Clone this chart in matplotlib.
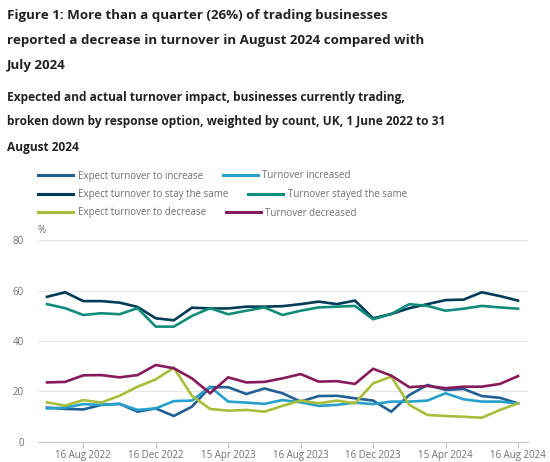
import matplotlib
matplotlib.use("Agg")
import matplotlib.pyplot as plt

plt.rcParams['font.family'] = ['Open Sans', 'DejaVu Sans']

months = ["Jun 2022", "Jul 2022", "16 Aug 2022", "Sep 2022", "Oct 2022", "Nov 2022",
          "16 Dec 2022", "Jan 2023", "Feb 2023", "Mar 2023", "15 Apr 2023", "May 2023",
          "Jun 2023", "Jul 2023", "16 Aug 2023", "Sep 2023", "Oct 2023", "Nov 2023",
          "16 Dec 2023", "Jan 2024", "Feb 2024", "Mar 2024", "15 Apr 2024", "May 2024",
          "Jun 2024", "Jul 2024", "16 Aug 2024"]
tick_labels = ["16 Aug 2022", "16 Dec 2022", "15 Apr 2023", "16 Aug 2023",
               "16 Dec 2023", "15 Apr 2024", "16 Aug 2024"]

expect_increase = [13.6, 13.1, 12.9, 14.7, 15.1, 12.0, 13.3, 10.3, 14.0, 21.7, 21.7, 19.0, 21.2, 19.3,
                   16.0, 18.2, 18.3, 17.3, 16.4, 12.0, 18.6, 22.6, 20.6, 21.0, 18.2, 17.5, 15.3]
turnover_increased = [13.3, 13.6, 15.0, 14.7, 15.1, 12.7, 13.3, 16.2, 16.4, 21.9, 16.0, 15.6, 15.1, 16.6,
                      15.7, 14.3, 14.7, 15.6, 15.0, 16.0, 16.0, 16.4, 19.3, 16.9, 16.0, 16.0, 15.3]
expect_same = [57.5, 59.3, 55.8, 55.8, 55.2, 53.5, 49.0, 48.2, 53.2, 52.9, 52.9, 53.6, 53.6, 53.8,
               54.6, 55.6, 54.6, 56.0, 49.0, 50.7, 53.0, 54.6, 56.2, 56.4, 59.3, 57.8, 56.0]
stayed_same = [54.6, 53.0, 50.3, 51.0, 50.6, 53.0, 45.7, 45.7, 49.9, 53.0, 50.6, 52.0, 53.3, 50.3,
               52.0, 53.3, 53.6, 53.9, 48.6, 50.7, 54.6, 53.9, 52.0, 52.8, 53.9, 53.3, 52.8]
expect_decrease = [15.7, 14.4, 16.6, 15.6, 18.3, 21.9, 24.8, 29.4, 18.3, 13.1, 12.4, 12.7, 12.0, 14.3,
                   16.4, 15.3, 16.4, 15.3, 23.2, 25.9, 14.7, 10.7, 10.3, 10.0, 9.6, 12.7, 15.3]
turnover_decreased = [23.6, 23.8, 26.4, 26.5, 25.6, 26.5, 30.5, 29.2, 25.2, 19.3, 25.6, 23.6, 23.8, 25.2,
                      26.9, 23.9, 24.1, 23.0, 29.0, 26.3, 21.7, 22.2, 21.3, 21.9, 21.9, 23.0, 26.1]

series = [
    ("Expect turnover to increase", expect_increase, "#206095"),
    ("Turnover increased", turnover_increased, "#27a0cc"),
    ("Expect turnover to stay the same", expect_same, "#003c57"),
    ("Turnover stayed the same", stayed_same, "#118c7b"),
    ("Expect turnover to decrease", expect_decrease, "#a8bd3a"),
    ("Turnover decreased", turnover_decreased, "#871a5b"),
]

fig = plt.figure(figsize=(5.5, 4.62), dpi=100)
fig.patch.set_facecolor("white")
ax = fig.add_axes([0.069, 0.0433, 0.891, 0.4372])

x = list(range(len(months)))
handles = []
for name, vals, col in series:
    h, = ax.plot(x, vals, color=col, lw=1.9, label=name, solid_joinstyle="miter")
    handles.append(h)

ax.set_ylim(0, 80)
ax.set_xlim(-0.5, 26.55)
ax.set_yticks([0, 20, 40, 60, 80])
ax.yaxis.grid(True, color="#e6e6e6", lw=0.8)
ax.set_axisbelow(True)
for s in ["top", "right", "left"]:
    ax.spines[s].set_visible(False)
ax.spines["bottom"].set_color("#c8c8c8")
ax.spines["bottom"].set_linewidth(0.8)
tick_pos = [months.index(t) for t in tick_labels]
ax.set_xticks(tick_pos)
ax.set_xticklabels(tick_labels)
ax.tick_params(axis="x", colors="#c8c8c8", labelcolor="#707070", labelsize=7, length=4, width=0.8, pad=2)
ax.tick_params(axis="y", length=0, labelcolor="#707070", labelsize=7, pad=10)
ax.text(-0.5, 81.5, "%", fontsize=7, color="#707070", ha="left", va="bottom")

title = ["Figure 1: More than a quarter (26%) of trading businesses",
         "reported a decrease in turnover in August 2024 compared with",
         "July 2024"]
for i, t in enumerate(title):
    fig.text(7/550, 1 - (15 + i*25.5)/462, t, fontsize=9.6, fontweight="bold", color="#222222",
             ha="left", va="center")
sub = ["Expected and actual turnover impact, businesses currently trading,",
       "broken down by response option, weighted by count, UK, 1 June 2022 to 31",
       "August 2024"]
for i, t in enumerate(sub):
    fig.text(7/550, 1 - (97 + i*25)/462, t, fontsize=8.6, fontweight="bold", color="#222222",
             ha="left", va="center")

rows_y = [176, 195, 213]
for r in range(3):
    leg = fig.legend(handles=handles[2*r:2*r+2], loc="center left",
                     bbox_to_anchor=(38/550, 1 - rows_y[r]/462), ncol=2, frameon=False,
                     fontsize=7, handlelength=3.6, handletextpad=0.5, columnspacing=2.0,
                     borderaxespad=0, borderpad=0)
    for t in leg.get_texts():
        t.set_color("#707070")
    for l in leg.get_lines():
        l.set_linewidth(2.2)

fig.savefig("out.png", dpi=100, facecolor="white")
